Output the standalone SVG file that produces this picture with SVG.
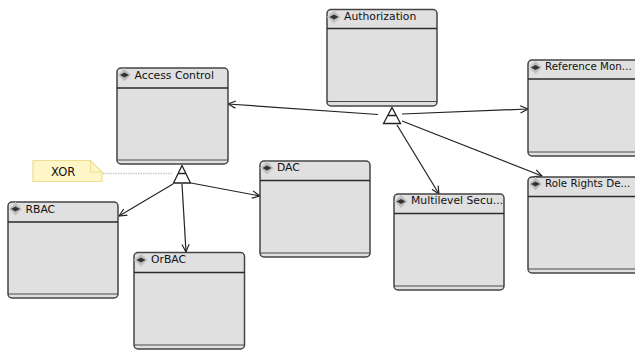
<svg xmlns="http://www.w3.org/2000/svg" width="635" height="352" viewBox="0 0 635 352">
<style>
.box{fill:#e0e0e0;stroke:#444;stroke-width:1.5}
.sep{fill:none;stroke:#2a2a2a;stroke-width:1.3}
.foot{fill:none;stroke:#4a4a4a;stroke-width:1.2}
.ic{fill:#bdbdbd;stroke:#d4d4d4;stroke-width:1}
.icd{fill:#333}
.t{font-family:"DejaVu Sans","Liberation Sans",sans-serif;font-size:10.8px;fill:#111}
.e{font-size:10.3px}
.c{fill:none;stroke:#222;stroke-width:1.2}
.tri{fill:#fff;stroke:#222;stroke-width:1.3}
</style>
<defs>
<marker id="a" viewBox="0 0 10 10" refX="9.500" refY="5" markerWidth="9" markerHeight="9" markerUnits="userSpaceOnUse" orient="auto"><path d="M1 1L9.500 5L1 9" fill="none" stroke="#222" stroke-width="1.300"/></marker>
<g id="icon"><path class="ic" d="M0-6.500L6.500 0L0 6.500L-6.500 0Z"/><path class="icd" d="M-4.500 0L0-2.500L4.500 0L0 2.500Z"/></g>
</defs>
<g id="connectors">
<path class="c" d="M378 114.500L228 104" marker-end="url(#a)"/>
<path class="c" d="M402 114L528 109" marker-end="url(#a)"/>
<path class="c" d="M402 121L542 176" marker-end="url(#a)"/>
<path class="c" d="M397 125L439 194" marker-end="url(#a)"/>
<path class="c" d="M173 184L119 216" marker-end="url(#a)"/>
<path class="c" d="M182 184L186 252" marker-end="url(#a)"/>
<path class="c" d="M191 183L260 196" marker-end="url(#a)"/>
<path d="M103 173.500H173" fill="none" stroke="#c8c8c8" stroke-width="1.500" stroke-dasharray="1.500 1"/>
<path class="tri" d="M182 165.500L190.500 183H173.500Z"/>
<path d="M178 173.500H186" stroke="#222" stroke-width="1.500"/>
<path class="tri" d="M392 107.500L400.500 123.500H383.500Z"/>
<path d="M388 115.500H396" stroke="#222" stroke-width="1.500"/>
</g>
<g id="note-xor">
<path d="M33 160.500H90.500L102 172V181.500H33Z" fill="#fef6c6" stroke="#f1dd92" stroke-width="1.200"/>
<path d="M90.500 160.500V172H102" fill="none" stroke="#f1dd92" stroke-width="1.200"/>
<text x="51" y="176" class="t" style="font-size:11.500px">XOR</text>
</g>
<g id="access-control">
<rect class="box" x="117" y="68" width="111" height="96" rx="4"/>
<path class="sep" d="M117 88H228"/><path class="foot" d="M117 160H228"/>
<use href="#icon" x="124.500" y="75"/>
<text x="134.500" y="78.500" class="t">Access Control</text>
</g>
<g id="authorization">
<rect class="box" x="327" y="9.500" width="110" height="96.500" rx="4"/>
<path class="sep" d="M327 28.500H437"/><path class="foot" d="M327 101.500H437"/>
<use href="#icon" x="334" y="17"/>
<text x="344" y="19.500" class="t">Authorization</text>
</g>
<g id="reference-monitor">
<rect class="box" x="528" y="60" width="112" height="96" rx="4"/>
<path class="sep" d="M528 79H640"/><path class="foot" d="M528 152H640"/>
<use href="#icon" x="535.500" y="67.500"/>
<text x="545" y="69.500" class="t e">Reference Mon...</text>
</g>
<g id="rbac">
<rect class="box" x="8" y="202" width="110" height="96" rx="4"/>
<path class="sep" d="M8 222H118"/><path class="foot" d="M8 294H118"/>
<use href="#icon" x="15.500" y="209"/>
<text x="25.500" y="212.500" class="t">RBAC</text>
</g>
<g id="orbac">
<rect class="box" x="134" y="252.500" width="110.500" height="96.500" rx="4"/>
<path class="sep" d="M134 272.500H244.500"/><path class="foot" d="M134 345H244.500"/>
<use href="#icon" x="141" y="260"/>
<text x="151" y="262.500" class="t">OrBAC</text>
</g>
<g id="dac">
<rect class="box" x="260" y="161" width="110" height="96" rx="4"/>
<path class="sep" d="M260 180.500H370"/><path class="foot" d="M260 253H370"/>
<use href="#icon" x="267" y="168"/>
<text x="277" y="170.500" class="t">DAC</text>
</g>
<g id="multilevel-security">
<rect class="box" x="394" y="194" width="110" height="96" rx="4"/>
<path class="sep" d="M394 213.500H504"/><path class="foot" d="M394 286H504"/>
<use href="#icon" x="401" y="201.500"/>
<text x="411" y="204" class="t">Multilevel Secu...</text>
</g>
<g id="role-rights">
<rect class="box" x="528" y="177" width="112" height="96" rx="4"/>
<path class="sep" d="M528 196.500H640"/><path class="foot" d="M528 269H640"/>
<use href="#icon" x="535.500" y="184"/>
<text x="545" y="187" class="t e">Role Rights De...</text>
</g>
</svg>
